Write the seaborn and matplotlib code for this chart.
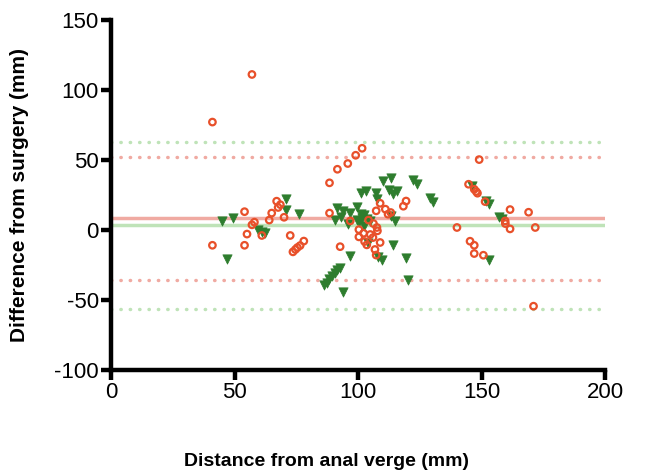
import pandas as pd
import matplotlib.pyplot as plt
import seaborn as sns

# red open circles (series 1)
red_x = [57, 41, 41, 54, 54, 55, 58, 57, 61, 64, 65, 67, 67.6, 68.5, 70, 72.5,
         73.6, 74.6, 75.4, 76.5, 78,
         101.6, 99, 95.8, 91.6, 88.4, 88.4, 92.7, 96.8, 100.3, 100.3, 102.2, 104.2,
         104.9, 106, 106.2, 107.6, 107.8, 108.9, 102.6, 103.5, 106.8, 107.3, 108.9,
         107.3, 111, 112.1, 113.2, 118.3, 119.4,
         149, 144.7, 147, 147.8, 148.3, 151.4, 161.5, 169, 159.5, 159.6, 161.5,
         171.7, 140, 145.3, 147, 147, 150.7, 171]
red_y = [111, 77, -11, 13, -11, -3, 5.5, 3.6, -4, 7, 12, 20.5, 16, 18, 9, -4,
         -15.7, -14, -12.6, -11.2, -8,
         58.3, 53.3, 47.4, 43.3, 33.6, 12, -12, 6.4, 0.2, -5, -2.4, 7,
         -3.3, -5.5, 4.5, 1.7, -0.7, -9, -8.3, -10.7, -14, -18, 19,
         13.6, 14.8, 11.2, 12.4, 16.9, 20.6,
         50.2, 32.6, 29, 27.4, 26.2, 20.2, 14.5, 12.6, 6.4, 4.5, 0.7,
         1.7, 1.7, -8.1, -11, -16.9, -18.1, -54.5]

# green filled triangles (series 2)
green_x = [45, 49.4, 47, 59.6, 61, 62.3, 70.7, 70.7, 76,
           113.2, 110, 112.4, 115.9, 114, 101.1, 103.2, 107.3, 107.6, 91.6, 94,
           96.8, 99.7, 90.7, 93, 96, 101.1, 102.4, 101.6, 100.5, 103.5, 102.2,
           104, 96.5, 108.1, 109.6, 114.3, 119.4, 115.1, 113.5, 120, 94,
           86.2, 87.3, 88.4, 89.5, 90.6, 91.6, 92.7, 99.5, 104.6,
           122.4, 123.8, 129.1, 130.5, 146, 151.8, 152.8, 157.2, 158.2, 152.8]
green_y = [6, 8.3, -21, 0, -1.2, -2.4, 22.4, 14.3, 11.2,
           36.9, 35, 28.3, 27.9, 25.5, 26, 27.9, 26.4, 21.9, 15.9, 13.6,
           12.4, 16.4, 6.9, 9.3, 4, 11.6, 10.7, 8.4, 5.9, 7.6, 2.9,
           -9.3, -18.8, -19.3, -21.7, -10.7, -19.8, 6.4, 9.8, -35.5, -44.5,
           -39.3, -37.6, -35.2, -32.9, -30.5, -28.8, -26.9, 6.9, 6.4,
           35.5, 33, 23.1, 20.2, 31.4, 20.7, 18.4, 9.3, 7.6, -21.7]

# bias and limits of agreement
red_bias, red_limits = 8.6, [52.4, -35.9]
green_bias, green_limits = 3.6, [63.1, -56.4]

RED = "#e8502a"
GREEN = "#2e7d2e"
RED_LINE = "#f0aaa2"
GREEN_LINE = "#bfe3b8"

sns.set_style("white")
plt.rcParams['font.family'] = ['Liberation Sans', 'DejaVu Sans']
plt.rcParams['axes.unicode_minus'] = False
plt.rcParams['text.color'] = 'black'
plt.rcParams['axes.labelcolor'] = 'black'
plt.rcParams['xtick.color'] = 'black'
plt.rcParams['ytick.color'] = 'black'

fig = plt.figure(figsize=(6.5, 4.73), dpi=100)
ax = fig.add_axes([0.171, 0.218, 0.760, 0.740])

for y in red_limits:
    ax.axhline(y, color=RED_LINE, lw=2.5, ls=(0, (0.1, 2.6)), dash_capstyle='round', zorder=1)
for y in green_limits:
    ax.axhline(y, color=GREEN_LINE, lw=2.5, ls=(0, (0.1, 2.6)), dash_capstyle='round', zorder=1)
ax.axhline(red_bias, color=RED_LINE, lw=2.5, zorder=1)
ax.axhline(green_bias, color=GREEN_LINE, lw=2.5, zorder=1)

red_df = pd.DataFrame({'x': red_x, 'y': red_y})
green_df = pd.DataFrame({'x': green_x, 'y': green_y})

sns.scatterplot(data=green_df, x='x', y='y', ax=ax, marker='v', s=45,
                color=GREEN, edgecolor=GREEN, linewidth=0.5, zorder=3)
sns.scatterplot(data=red_df, x='x', y='y', ax=ax, marker='o', s=22,
                facecolor='none', edgecolor=RED, linewidth=1.6, zorder=4)

ax.set_xlim(0, 200)
ax.set_ylim(-100, 150)
ax.set_xticks([0, 50, 100, 150, 200])
ax.set_yticks([-100, -50, 0, 50, 100, 150])

for side in ['top', 'right']:
    ax.spines[side].set_visible(False)
for side in ['left', 'bottom']:
    ax.spines[side].set_linewidth(3.2)
    ax.spines[side].set_color('black')

ax.tick_params(axis='both', direction='out', length=7, width=3.2, color='black',
               labelcolor='black', labelsize=16, pad=2, left=True, bottom=True)

ax.set_xlabel('Distance from anal verge (mm)', fontsize=14, fontweight='bold', color='black')
ax.set_ylabel('Difference from surgery (mm)', fontsize=15, fontweight='bold', color='black')
ax.xaxis.set_label_coords(0.435, -0.237)
# ylabel is anchored on its (rotated) baseline side, i.e. the right edge
ax.yaxis.set_label_coords(-0.166, 0.5)

fig.savefig('out.png', dpi=100)
